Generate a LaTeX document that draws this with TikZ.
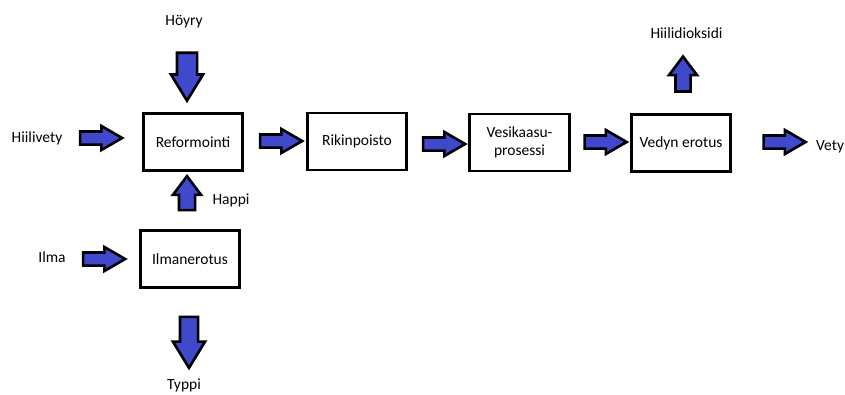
\documentclass[tikz,border=0pt]{standalone}
\usepackage{fontspec}
\setmainfont{Carlito}
\usetikzlibrary{shapes.arrows}
\definecolor{arrblue}{RGB}{64,72,204}

\begin{document}
\begin{tikzpicture}[x=1pt,y=-1pt,font=\fontsize{15.5}{18}\selectfont,
    box/.style={draw,line width=2.8pt,minimum width=99.5pt,minimum height=57pt,align=center},
    lbl/.style={anchor=base,inner sep=0pt},
    blk/.style={single arrow,draw,fill=arrblue,line width=2.6pt,inner xsep=0pt},
    harr/.style={blk,inner ysep=5.25pt,single arrow head extend=5.5pt,minimum height=42pt,single arrow tip angle=60}]
\useasboundingbox (0,0) rectangle (845,394);

                      \node[box] (ref) at (193,142) {Reformointi};
                      \node[box] (rik) at (357,141.5) {Rikinpoisto};
                      \node[box] (ves) at (519.5,142.5) {Vesikaasu-\\prosessi};
                      \node[box] (ved) at (681,143) {Vedyn erotus};
                      \node[box] (ilm) at (190,259) {Ilmanerotus};

                      \node[lbl] (hoyry) at (184,25) {Höyry};
                      \node[lbl] (hiilivety) at (37,142) {Hiilivety};
                      \node[lbl] (happi) at (231,204) {Happi};
                      \node[lbl] (ilma) at (52,262) {Ilma};
                      \node[lbl] (typpi) at (184,389) {Typpi};
                      \node[lbl] (co2) at (686.5,38) {Hiilidioksidi};
                      \node[lbl,anchor=base west] (vety) at (816,150) {Vety};

                      \node[harr] (a1) at (95.5,138) {};
                      \node[harr] (a2) at (275.5,141) {};
                      \node[harr] (a3) at (438.5,144) {};
                      \node[harr] (a4) at (600,142) {};
                      \node[harr] (a5) at (779,142) {};
                      \node[harr] (a6) at (98.5,259) {};
                      \node[blk,rotate=-90,inner ysep=8.75pt,single arrow head extend=6pt,minimum height=48pt,single arrow tip angle=63] (b1) at (187,68.5) {};
                      \node[blk,rotate=90,inner ysep=6.75pt,single arrow head extend=6pt,minimum height=34pt,single arrow tip angle=74] (b2) at (187,198.5) {};
                      \node[blk,rotate=-90,inner ysep=7.75pt,single arrow head extend=7pt,minimum height=51pt,single arrow tip angle=63] (b3) at (189,335) {};
                      \node[blk,rotate=90,inner ysep=6.25pt,single arrow head extend=6.5pt,minimum height=35pt,single arrow tip angle=74] (b4) at (683,79) {};
                    \end{tikzpicture}
\end{document}
